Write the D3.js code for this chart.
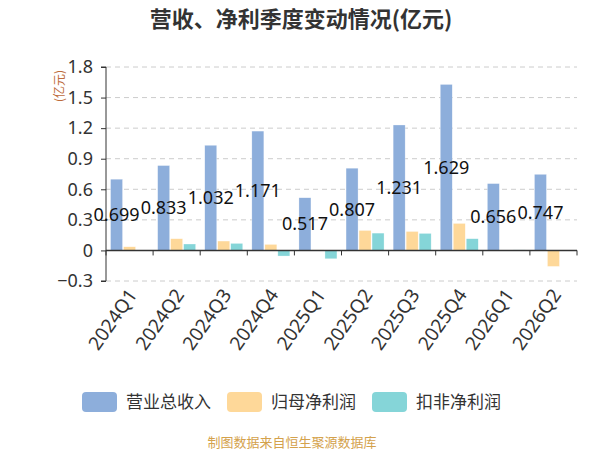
<!DOCTYPE html>
<html>
<head>
<meta charset="utf-8">
<title>营收、净利季度变动情况</title>
<script src="https://d3js.org/d3.v7.min.js"></script>
<style>
  body { margin: 0; background: #fff; }
  text { font-family: "Noto Sans CJK SC", "Noto Sans", sans-serif; }
</style>
</head>
<body>
<script>

  // data (亿元)
  let quarters = ["2024Q1","2024Q2","2024Q3","2024Q4","2025Q1","2025Q2","2025Q3","2025Q4","2026Q1","2026Q2"];
  let revenue = [0.699, 0.833, 1.032, 1.171, 0.517, 0.807, 1.231, 1.629, 0.656, 0.747];
  let net_profit = [0.036, 0.115, 0.092, 0.059, 0.005, 0.196, 0.186, 0.265, 0.003, -0.157];
  let net_profit_ded = [0.0, 0.063, 0.069, -0.055, -0.082, 0.17, 0.167, 0.115, 0.005, 0.0];
  let y_ticks = [-0.3, 0, 0.3, 0.6, 0.9, 1.2, 1.5, 1.8];
  let series_names = ["营业总收入","归母净利润","扣非净利润"];
  let colors = ["#8daedb","#fed899","#85d5d8"];

  let width = 600;
  let height = 450;
  let plot = {left: 106, right: 577, top: 67, bottom: 281};

  let svg = d3.select("body").append("svg")
      .attr("width", width)
      .attr("height", height);

  // title
  svg.append("text")
      .attr("x", 301)
      .attr("y", 27)
      .attr("text-anchor","middle")
      .style("font-size","22px")
      .style("font-weight","bold")
      .style("fill","#333")
      .text("营收、净利季度变动情况(亿元)");

  let x = d3.scaleBand()
      .domain(quarters)
      .range([plot.left, plot.right])
      .paddingInner(0)
      .paddingOuter(0);

  let y = d3.scaleLinear()
      .domain([-0.3, 1.8])
      .range([plot.bottom, plot.top]);

  // grid lines
  svg.append("g")
      .selectAll("line")
      .data(y_ticks.filter(d => d !== 0))
      .enter()
      .append("line")
      .attr("x1", plot.left)
      .attr("x2", plot.right)
      .attr("y1", d => y(d))
      .attr("y2", d => y(d))
      .style("stroke","#ccc")
      .style("stroke-dasharray","5,4");

  // y axis
  let y_axis = d3.axisLeft(y)
      .tickValues(y_ticks)
      .tickSize(5)
      .tickPadding(8)
      .tickFormat(d => d === 0 ? "0" : d3.format(".1f")(d));

  let y_g = svg.append("g")
      .attr("transform","translate(" + plot.left + ",0)")
      .call(y_axis);
  y_g.select(".domain").attr("d", "M-5," + y(1.8) + "H0V" + y(-0.3) + "H-5").style("stroke","#333");
  y_g.selectAll(".tick line").style("stroke","#333");
  y_g.selectAll(".tick text")
      .style("font-size","18px")
      .style("fill","#333")
      .style("font-family","'Noto Sans', sans-serif");

  // y axis name
  svg.append("text")
      .attr("transform","translate(64,86) rotate(-90)")
      .attr("text-anchor","middle")
      .style("font-size","12px")
      .style("fill","#bd6b3c")
      .text("(亿元)");

  // bars
  let groups = [revenue, net_profit, net_profit_ded];
  let bar_w = 12;
  let bar_gap = 1;
  let group_w = groups.length * bar_w + (groups.length - 1) * bar_gap;

  let bars = svg.append("g");
  groups.forEach(function(values, s) {
    bars.append("g")
      .selectAll("rect")
      .data(values)
      .enter()
      .append("rect")
      .attr("x", (d, i) => x(quarters[i]) + (x.bandwidth() - group_w) / 2 + s * (bar_w + bar_gap))
      .attr("y", d => y(Math.max(0, d)))
      .attr("width", bar_w)
      .attr("height", d => Math.abs(y(d) - y(0)))
      .style("fill", colors[s])
      .style("stroke", "#fff")
      .style("stroke-opacity", 0.6)
      .style("stroke-width", 0.5);
  });

  // x axis along zero
  let x_axis = d3.axisBottom(x).tickSize(0).tickFormat("");
  let x_g = svg.append("g")
      .attr("transform","translate(0," + y(0) + ")")
      .call(x_axis);
  x_g.select(".domain").remove();
  x_g.append("line")
      .attr("x1", plot.left)
      .attr("x2", plot.right)
      .style("stroke","#333")
      .style("stroke-width", 1.5);
  x_g.selectAll(".bound")
      .data(d3.range(quarters.length + 1))
      .enter()
      .append("line")
      .attr("class","bound")
      .attr("x1", i => plot.left + i * x.bandwidth())
      .attr("x2", i => plot.left + i * x.bandwidth())
      .attr("y1", 0)
      .attr("y2", 5)
      .style("stroke","#333");

  // category labels
  svg.append("g")
      .selectAll("text")
      .data(quarters)
      .enter()
      .append("text")
      .attr("transform", d => "translate(" + (x(d) + x.bandwidth() / 2 + 3) + "," + (plot.bottom + 10) + ") rotate(-55)")
      .attr("text-anchor","end")
      .attr("dy","0.35em")
      .style("font-size","19px")
      .style("fill","#333")
      .style("font-family","'Noto Sans', sans-serif")
      .text(d => d);

  // revenue value labels, at bar middle
  svg.append("g")
      .selectAll("text")
      .data(revenue)
      .enter()
      .append("text")
      .attr("x", (d, i) => x(quarters[i]) + (x.bandwidth() - group_w) / 2 + bar_w / 2)
      .attr("y", d => y(d / 2))
      .attr("dy","0.35em")
      .attr("text-anchor","middle")
      .style("font-size","18px")
      .style("fill","#111")
      .style("font-family","'Noto Sans', sans-serif")
      .text(d => d3.format(".3f")(d));

  // legend
  let legend_x = [82, 227, 372];
  let legend = svg.append("g");
  series_names.forEach(function(name, s) {
    legend.append("rect")
      .attr("x", legend_x[s])
      .attr("y", 392)
      .attr("width", 35)
      .attr("height", 20)
      .attr("rx", 4)
      .style("fill", colors[s]);
    legend.append("text")
      .attr("x", legend_x[s] + 44)
      .attr("y", 402)
      .attr("dy","0.35em")
      .style("font-size","17px")
      .style("fill","#333")
      .text(name);
  });

  // footnote
  svg.append("text")
      .attr("x", 292)
      .attr("y", 442)
      .attr("dy","0.35em")
      .attr("text-anchor","middle")
      .style("font-size","13px")
      .style("fill","#d4a24c")
      .text("制图数据来自恒生聚源数据库");

</script>
</body>
</html>
